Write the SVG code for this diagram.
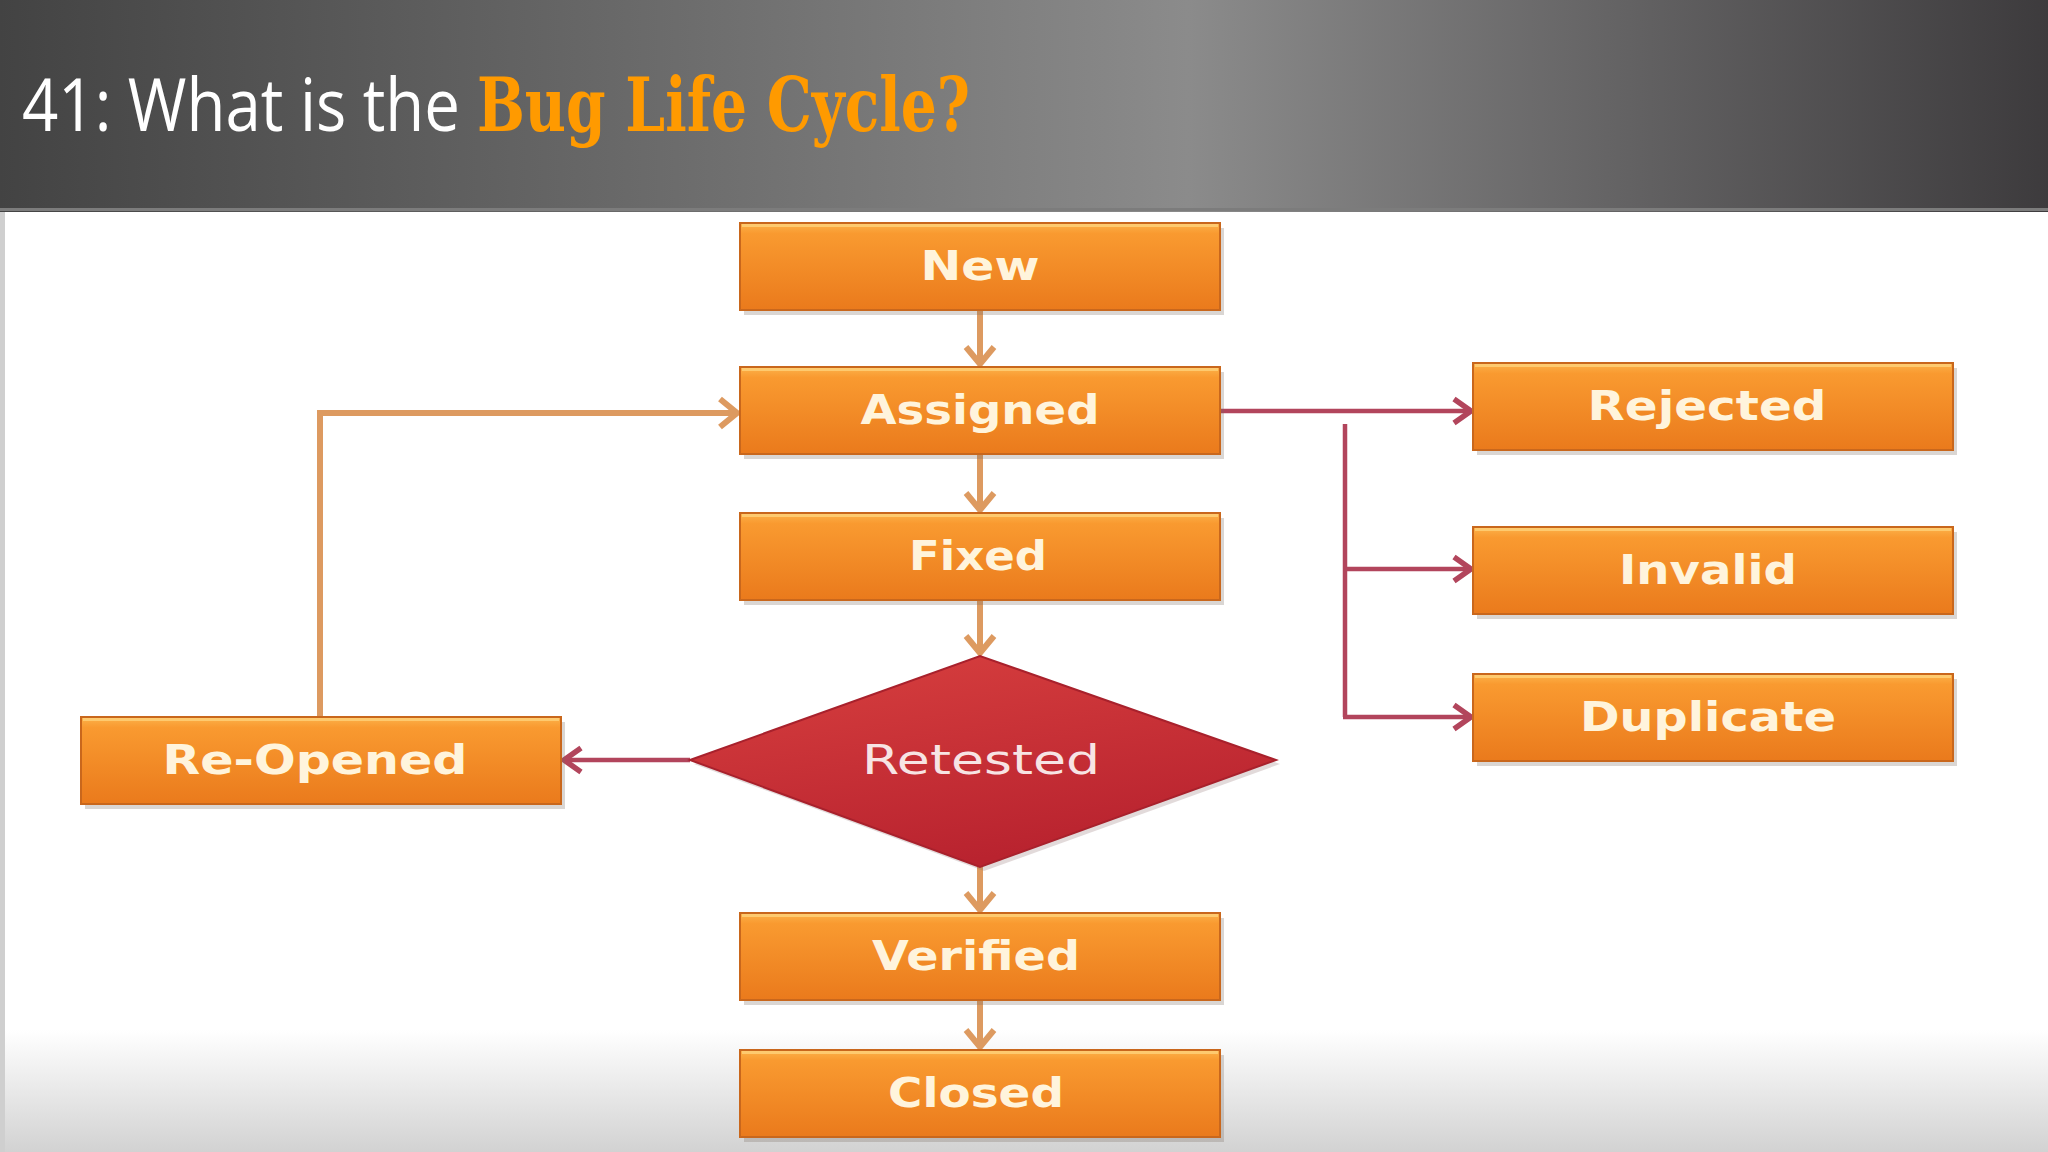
<svg xmlns="http://www.w3.org/2000/svg" width="2048" height="1152" viewBox="0 0 2048 1152">
<defs>
<linearGradient id="hdr" x1="0" y1="0" x2="1" y2="0">
<stop offset="0" stop-color="#434343"/>
<stop offset="0.58" stop-color="#8b8b8b"/>
<stop offset="1" stop-color="#3d3b3d"/>
</linearGradient>
<linearGradient id="bot" x1="0" y1="0" x2="0" y2="1">
<stop offset="0" stop-color="#ffffff"/>
<stop offset="1" stop-color="#d2d2d2"/>
</linearGradient>
<linearGradient id="box" x1="0" y1="0" x2="0" y2="1">
<stop offset="0" stop-color="#fcb24a"/>
<stop offset="0.12" stop-color="#f99a30"/>
<stop offset="1" stop-color="#ea7a1c"/>
</linearGradient>
<linearGradient id="dia" x1="0" y1="0" x2="0.4" y2="1">
<stop offset="0" stop-color="#d8403f"/>
<stop offset="1" stop-color="#b9232f"/>
</linearGradient>
<marker id="ahTan" markerUnits="userSpaceOnUse" markerWidth="24" markerHeight="36" viewBox="0 0 24 36" refX="21" refY="18" orient="auto">
<path d="M4,4 L21,18 L4,32" fill="none" stroke="#dd9a60" stroke-width="6"/>
</marker>
<marker id="ahRed" markerUnits="userSpaceOnUse" markerWidth="24" markerHeight="34" viewBox="0 0 24 34" refX="21" refY="17" orient="auto">
<path d="M4,5 L21,17 L4,29" fill="none" stroke="#b2455c" stroke-width="5.5"/>
</marker>
</defs>
<style>
.bx{fill:url(#box);stroke:#c9671c;stroke-width:2}
.sh{fill:#7a6a60;opacity:0.28}
.hl{stroke:#ffd27a;stroke-width:3;opacity:0.8}
.lb{font-family:"DejaVu Sans",sans-serif;font-weight:bold;font-size:40px;fill:#fff4dc;text-anchor:middle}
.tan{fill:none;stroke:#dd9a60;stroke-width:6;marker-end:url(#ahTan)}
.red{fill:none;stroke:#b2455c;stroke-width:4.5}
.redA{fill:none;stroke:#b2455c;stroke-width:4.5;marker-end:url(#ahRed)}
</style>
<rect width="2048" height="1152" fill="#ffffff"/>
<rect x="0" y="1030" width="2048" height="122" fill="url(#bot)"/>
<rect x="0" y="212" width="5" height="940" fill="#cfcfcf"/>
<g id="header">
<rect x="0" y="0" width="2048" height="212" fill="url(#hdr)"/>
<rect x="0" y="208" width="2048" height="3" fill="#7c7c7c"/>
<text x="22" y="131" font-family="Open Sans, sans-serif" font-size="74" fill="#ffffff" textLength="438" lengthAdjust="spacingAndGlyphs">41: What is the</text>
<text x="477" y="131" font-family="DejaVu Serif, serif" font-weight="bold" font-size="74" fill="#ff9a00" textLength="493" lengthAdjust="spacingAndGlyphs">Bug Life Cycle?</text>
</g>
<g id="connectors">
<path class="tan" d="M980,310 L980,364"/>
<path class="tan" d="M980,455 L980,510"/>
<path class="tan" d="M980,600 L980,653"/>
<path class="tan" d="M980,867 L980,910"/>
<path class="tan" d="M980,1000 L980,1047"/>
<path class="tan" d="M320,717 L320,413 L737,413"/>
<path class="redA" d="M1220,411 L1471,411"/>
<path class="red" d="M1345,424 L1345,717"/>
<path class="redA" d="M1345,569 L1471,569"/>
<path class="redA" d="M1343,717 L1471,717"/>
<path class="redA" d="M690,760 L564,760"/>
</g>
<g id="node-new">
<rect class="sh" x="744" y="228" width="480" height="87"/>
<rect class="bx" x="740" y="223" width="480" height="87"/>
<line class="hl" x1="742" y1="225.5" x2="1218" y2="225.5"/>
<text class="lb" x="980" y="280" textLength="119" lengthAdjust="spacingAndGlyphs">New</text>
</g>
<g id="node-assigned">
<rect class="sh" x="744" y="372" width="480" height="87"/>
<rect class="bx" x="740" y="367" width="480" height="87"/>
<line class="hl" x1="742" y1="369.5" x2="1218" y2="369.5"/>
<text class="lb" x="980" y="424" textLength="239" lengthAdjust="spacingAndGlyphs">Assigned</text>
</g>
<g id="node-fixed">
<rect class="sh" x="744" y="518" width="480" height="87"/>
<rect class="bx" x="740" y="513" width="480" height="87"/>
<line class="hl" x1="742" y1="515.5" x2="1218" y2="515.5"/>
<text class="lb" x="978" y="570" textLength="138" lengthAdjust="spacingAndGlyphs">Fixed</text>
</g>
<g id="node-retested">
<polygon points="694,764 984,660 1280,764 984,871" fill="#8a6a6a" opacity="0.25"/>
<polygon points="690,760 980,656 1276,760 980,867" fill="url(#dia)" stroke="#a8212c" stroke-width="2"/>
<text x="981" y="774" font-family="DejaVu Sans, sans-serif" font-size="40" fill="#f7e4e4" text-anchor="middle" textLength="238" lengthAdjust="spacingAndGlyphs">Retested</text>
</g>
<g id="node-verified">
<rect class="sh" x="744" y="918" width="480" height="87"/>
<rect class="bx" x="740" y="913" width="480" height="87"/>
<line class="hl" x1="742" y1="915.5" x2="1218" y2="915.5"/>
<text class="lb" x="976" y="970" textLength="208" lengthAdjust="spacingAndGlyphs">Verified</text>
</g>
<g id="node-closed">
<rect class="sh" x="744" y="1055" width="480" height="87"/>
<rect class="bx" x="740" y="1050" width="480" height="87"/>
<line class="hl" x1="742" y1="1052.5" x2="1218" y2="1052.5"/>
<text class="lb" x="976" y="1107" textLength="176" lengthAdjust="spacingAndGlyphs">Closed</text>
</g>
<g id="node-rejected">
<rect class="sh" x="1477" y="368" width="480" height="87"/>
<rect class="bx" x="1473" y="363" width="480" height="87"/>
<line class="hl" x1="1475" y1="365.5" x2="1951" y2="365.5"/>
<text class="lb" x="1707" y="420" textLength="239" lengthAdjust="spacingAndGlyphs">Rejected</text>
</g>
<g id="node-invalid">
<rect class="sh" x="1477" y="532" width="480" height="87"/>
<rect class="bx" x="1473" y="527" width="480" height="87"/>
<line class="hl" x1="1475" y1="529.5" x2="1951" y2="529.5"/>
<text class="lb" x="1708" y="584" textLength="178" lengthAdjust="spacingAndGlyphs">Invalid</text>
</g>
<g id="node-duplicate">
<rect class="sh" x="1477" y="679" width="480" height="87"/>
<rect class="bx" x="1473" y="674" width="480" height="87"/>
<line class="hl" x1="1475" y1="676.5" x2="1951" y2="676.5"/>
<text class="lb" x="1708" y="731" textLength="256" lengthAdjust="spacingAndGlyphs">Duplicate</text>
</g>
<g id="node-reopened">
<rect class="sh" x="85" y="722" width="480" height="87"/>
<rect class="bx" x="81" y="717" width="480" height="87"/>
<line class="hl" x1="83" y1="719.5" x2="559" y2="719.5"/>
<text class="lb" x="315" y="774" textLength="305" lengthAdjust="spacingAndGlyphs">Re-Opened</text>
</g>
</svg>
